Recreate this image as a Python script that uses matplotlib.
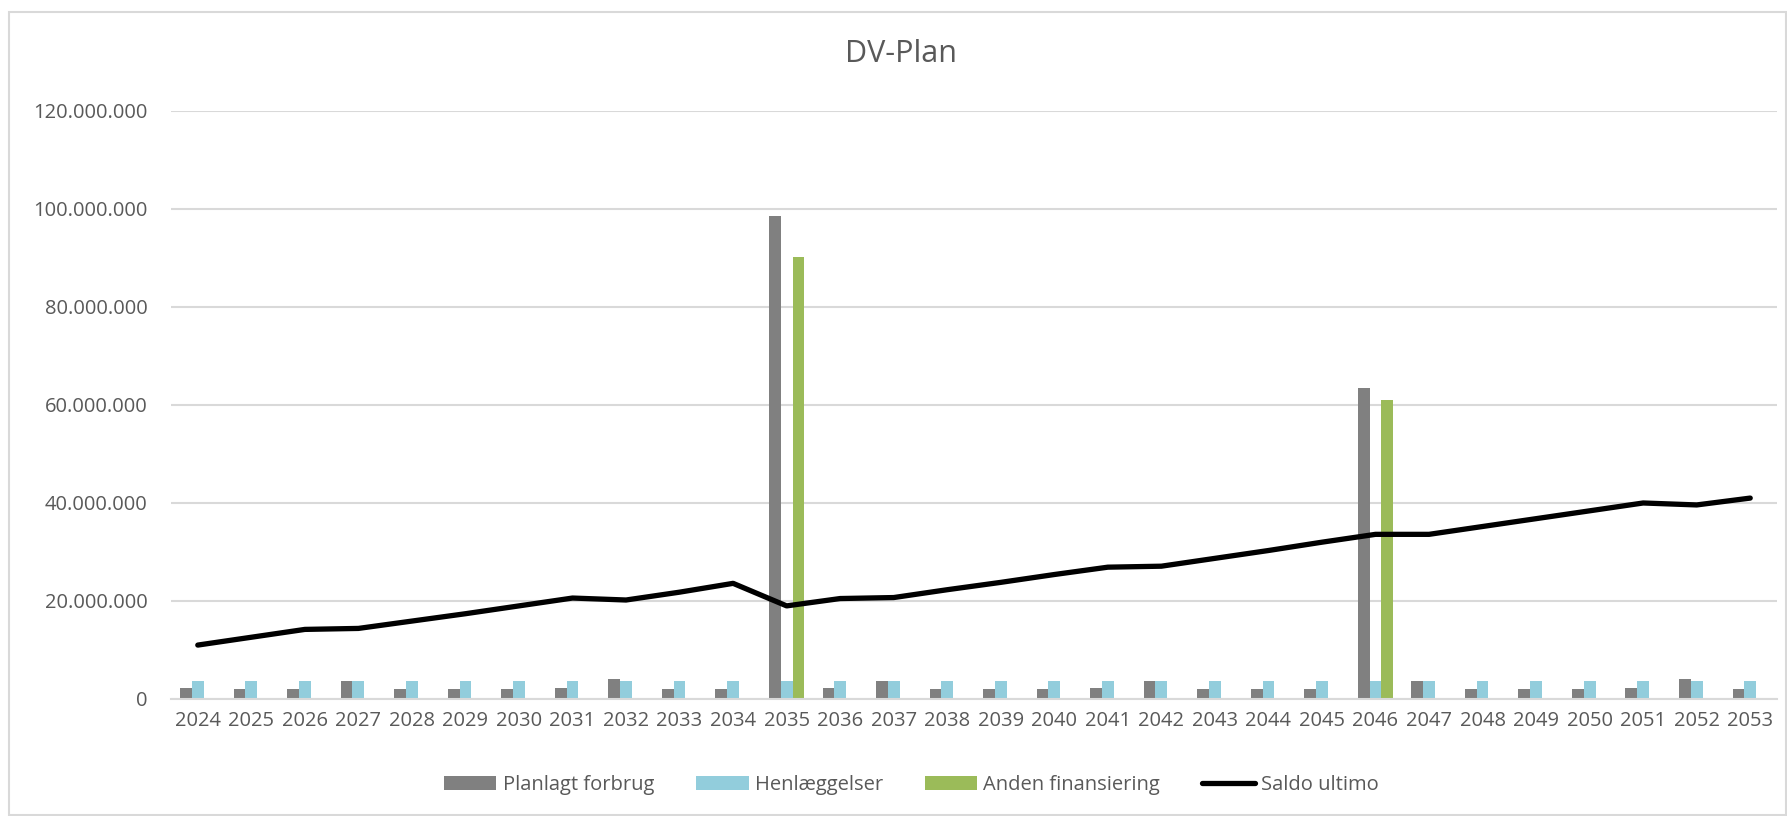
import numpy as np
import matplotlib
matplotlib.use("Agg")
import matplotlib.pyplot as plt
from matplotlib.ticker import FuncFormatter
from matplotlib.patches import Rectangle

plt.rcParams['font.family'] = ['Open Sans', 'DejaVu Sans']

years = [str(y) for y in range(2024, 2054)]

# planlagt forbrug (mio. kr -> kr)
forbrug = [2.3, 2.1, 2.1, 3.6, 2.1, 2.1, 2.1, 2.3, 4.1, 2.1,
           2.1, 98.5, 2.2, 3.6, 2.1, 2.1, 2.1, 2.3, 3.6, 2.1,
           2.1, 2.1, 63.4, 3.6, 2.1, 2.1, 2.1, 2.3, 4.1, 2.1]
henlaeg = [3.75] * 30
anden = [0, 0, 0, 0, 0, 0, 0, 0, 0, 0,
         0, 90.1, 0, 0, 0, 0, 0, 0, 0, 0,
         0, 0, 61.1, 0, 0, 0, 0, 0, 0, 0]
saldo = [11.0, 12.6, 14.2, 14.4, 15.9, 17.4, 19.0, 20.6, 20.2, 21.8,
         23.6, 19.0, 20.5, 20.7, 22.3, 23.8, 25.4, 26.9, 27.1, 28.7,
         30.3, 32.0, 33.6, 33.6, 35.2, 36.8, 38.4, 40.0, 39.6, 41.0]

forbrug = np.array(forbrug) * 1e6
henlaeg = np.array(henlaeg) * 1e6
anden = np.array(anden) * 1e6
saldo = np.array(saldo) * 1e6

txt = '#595959'
grid = '#D9D9D9'

fig = plt.figure(figsize=(17.87, 8.16), dpi=100)
ax = fig.add_axes([0.0957, 0.1434, 0.8987, 0.7206])

x = np.arange(len(years))
w = 0.22
b1 = ax.bar(x - w, forbrug, w, color='#808080', label='Planlagt forbrug', zorder=2)
b2 = ax.bar(x, henlaeg, w, color='#92CDDC', label='Henlæggelser', zorder=2)
b3 = ax.bar(x + w, anden, w, color='#9BBB59', label='Anden finansiering', zorder=2)
l1, = ax.plot(x, saldo, color='black', lw=3.8, label='Saldo ultimo', zorder=3,
              solid_capstyle='round', solid_joinstyle='round')

ax.set_xlim(-0.5, len(years) - 0.5)
ax.set_ylim(0, 120e6)
ax.set_yticks(np.arange(0, 120e6 + 1, 20e6))
ax.yaxis.set_major_formatter(FuncFormatter(lambda v, p: f"{int(v):,}".replace(',', '.')))
ax.set_xticks(x)
ax.set_xticklabels(years)
ax.grid(axis='y', color=grid, lw=1.5, zorder=0)
for s in ['top', 'right', 'left']:
    ax.spines[s].set_visible(False)
ax.spines['bottom'].set_color(grid)
ax.spines['bottom'].set_linewidth(1.5)
ax.tick_params(axis='y', length=0, pad=17, labelsize=14.5, labelcolor=txt)
ax.tick_params(axis='x', length=0, pad=9, labelsize=14.5, labelcolor=txt)

fig.text(0.504, 0.934, 'DV-Plan', ha='center', va='center', fontsize=22, color=txt)

fig.legend(handles=[b1, b2, b3, l1], loc='center', bbox_to_anchor=(0.51, 0.038),
           ncol=4, frameon=False, fontsize=14.5, labelcolor=txt,
           handlelength=2.6, handleheight=0.65, handletextpad=0.3, columnspacing=2.1)

fig.patches.append(Rectangle((9 / 1787, 1 / 816), 1777 / 1787, 803 / 816,
                             transform=fig.transFigure, fill=False,
                             edgecolor=grid, lw=1.5))

fig.savefig('out.png', dpi=100)
